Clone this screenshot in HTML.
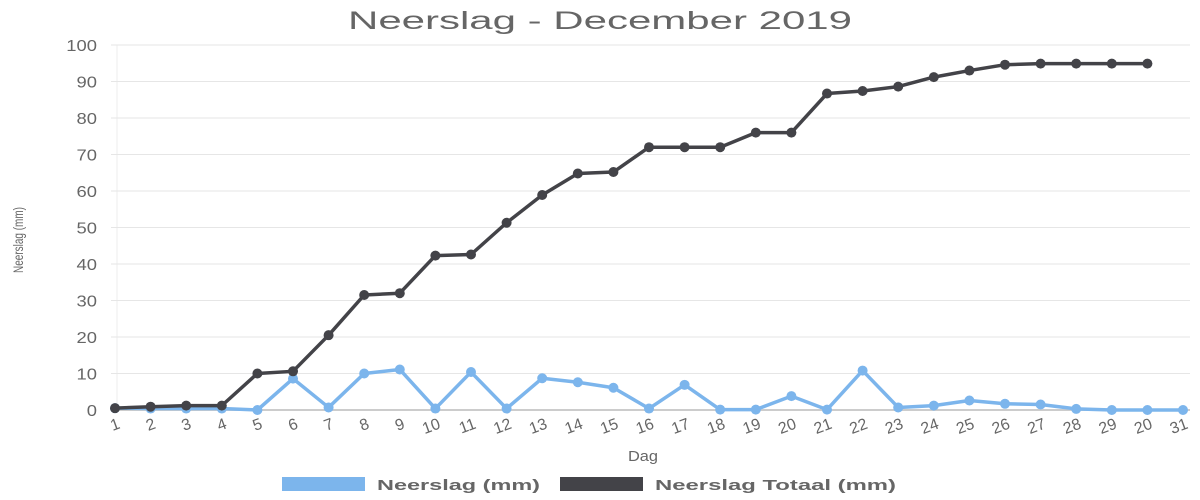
<!DOCTYPE html>
<html><head><meta charset="utf-8"><style>body{margin:0;background:#fff}svg{display:block;font-family:"Liberation Sans",sans-serif}</style></head>
<body>
<svg id="c" width="1200" height="500">
<text x="348" y="29" font-size="25" fill="#666" textLength="504" lengthAdjust="spacingAndGlyphs">Neerslag - December 2019</text>
<text transform="translate(23,240) rotate(-90)" text-anchor="middle" font-size="14" fill="#666" textLength="66" lengthAdjust="spacingAndGlyphs">Neerslag (mm)</text>
<text x="628" y="461" font-size="15" fill="#666" textLength="30" lengthAdjust="spacingAndGlyphs">Dag</text>
<g>
<rect x="282" y="477" width="83" height="14" fill="#7cb5ec"/>
<text x="377" y="490" font-size="15" font-weight="bold" fill="#666" textLength="163" lengthAdjust="spacingAndGlyphs">Neerslag (mm)</text>
<rect x="560" y="477" width="83" height="14" fill="#434348"/>
<text x="655" y="490" font-size="15" font-weight="bold" fill="#666" textLength="241" lengthAdjust="spacingAndGlyphs">Neerslag Totaal (mm)</text>
</g>
<g id="grid"></g><g id="series"></g>
</svg>
<script>
const days=["1","2","3","4","5","6","7","8","9","10","11","12","13","14","15","16","17","18","19","20","21","22","23","24","25","26","27","28","29","20","31"];
const daily=[0.5,0.4,0.4,0.4,0,8.6,0.7,10,11.1,0.4,10.4,0.4,8.7,7.6,6.1,0.4,6.9,0.1,0.1,3.8,0.1,10.8,0.7,1.2,2.6,1.7,1.5,0.3,0,0,0];
const total=[0.5,0.9,1.2,1.2,10,10.6,20.5,31.5,32,42.3,42.6,51.3,58.9,64.8,65.2,72,72,72,76,76,86.7,87.4,88.6,91.2,93,94.6,94.9,94.9,94.9,94.9];
const yTicks=[0,10,20,30,40,50,60,70,80,90,100];
const NS="http://www.w3.org/2000/svg";
const X=i=>115+i*(1183-115)/30, Y=v=>410-v*3.65;
function mk(t,a,p){const e=document.createElementNS(NS,t);for(const k in a)e.setAttribute(k,a[k]);p.appendChild(e);return e;}
const g=document.getElementById('grid'),s=document.getElementById('series');
mk('line',{x1:117,x2:117,y1:45,y2:413,stroke:'#eee'},g);
yTicks.forEach(v=>{const l=mk('line',{x1:111,x2:1190,y1:Y(v),y2:Y(v),stroke:v?'#e6e6e6':'#ccc','stroke-width':v?1:2},g);

const t=mk('text',{x:97,y:Y(v)+6,'text-anchor':'end','font-size':16,fill:'#666',transform:`translate(${97*-0.15},0) scale(1.15,1)`},g);t.textContent=v;
});
days.forEach((d,i)=>{const t=mk('text',{transform:`translate(${X(i)+6},${428}) rotate(-20)`,'text-anchor':'end','font-size':16,fill:'#666'},g);t.textContent=d;
});
function series(vals,col,name){const p=mk('polyline',{points:vals.map((v,i)=>X(i)+','+Y(v)).join(' '),fill:'none',stroke:col,'stroke-width':3.5,'stroke-linejoin':'round'},s);

vals.forEach((v,i)=>{const c=mk('circle',{cx:X(i),cy:Y(v),r:5,fill:col},s);});}
series(daily,'#7cb5ec','daily');
series(total,'#434348','total');
</script>
</body></html>
